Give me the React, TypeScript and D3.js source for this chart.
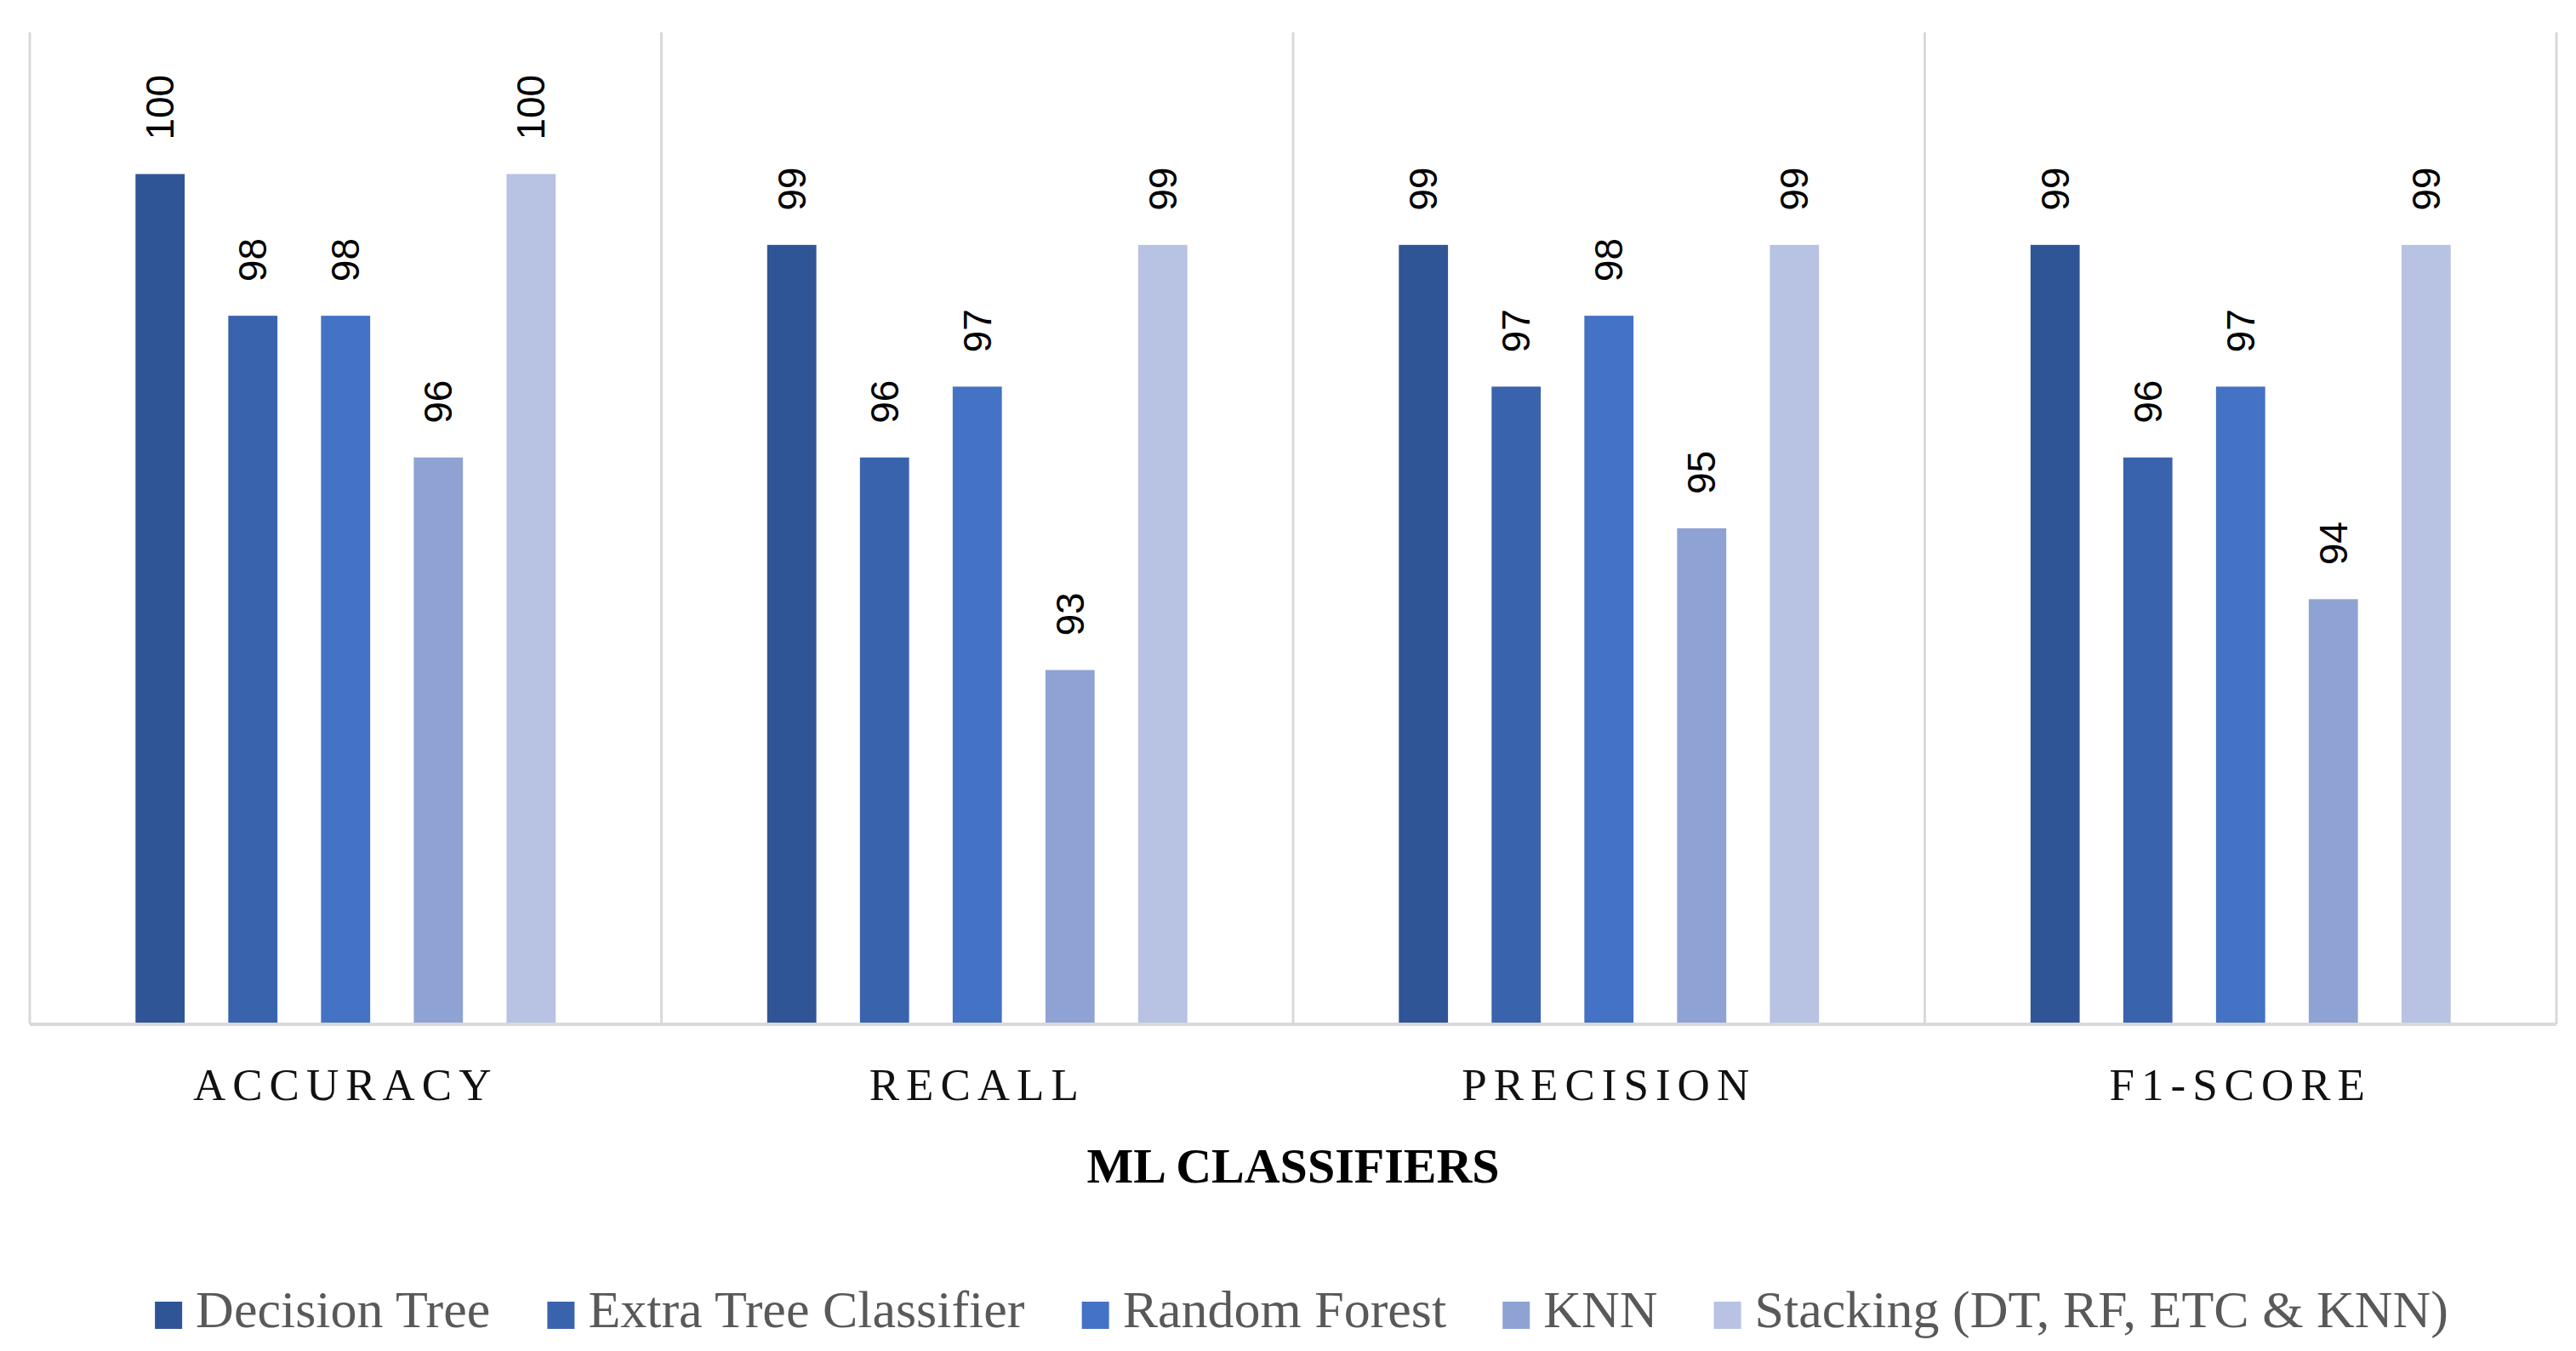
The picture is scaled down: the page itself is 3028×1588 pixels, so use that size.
import * as d3 from "d3";
import { useEffect } from "react";

const metrics = ["ACCURACY", "RECALL", "PRECISION", "F1-SCORE"];
const classifiers = [
    "Decision Tree",
    "Extra Tree Classifier",
    "Random Forest",
    "KNN",
    "Stacking (DT, RF, ETC & KNN)",
];
const colors = ["#2F5597", "#3A63AD", "#4472C4", "#8FA2D4", "#B8C2E2"];

// one array per classifier, in metric order
const decisionTree = [100, 99, 99, 99];
const extraTree = [98, 96, 97, 96];
const randomForest = [98, 97, 98, 97];
const knn = [96, 93, 95, 94];
const stacking = [100, 99, 99, 99];
const seriesValues = [decisionTree, extraTree, randomForest, knn, stacking];

const yDomain = [88, 102];
const axisTitle = "ML CLASSIFIERS";

const serif = "'Liberation Serif', 'DejaVu Serif', serif";
const sans = "'Liberation Sans', Arial, sans-serif";

let measureCtx: CanvasRenderingContext2D | null = null;
function textWidth(text: string, font: string) {
    if (!measureCtx) measureCtx = document.createElement("canvas").getContext("2d");
    if (!measureCtx) return text.length * 25;
    measureCtx.font = font;
    return measureCtx.measureText(text).width;
}

export default function App() {
    const width = 3028;
    const height = 1588;
    const plot = { left: 35, right: 3005, top: 38, bottom: 1204 };

    useEffect(() => {
        document.body.style.margin = "0";
    }, []);

    const xGroup = d3
        .scaleBand()
        .domain(metrics)
        .range([plot.left, plot.right])
        .padding(0);

    const xBar = d3
        .scaleBand()
        .domain(classifiers)
        .range([0, xGroup.bandwidth()])
        .paddingInner(0.47)
        .paddingOuter(1.14);

    const yScale = d3
        .scaleLinear()
        .domain(yDomain)
        .range([plot.bottom, plot.top]);

    const separators = [...metrics.map((m) => xGroup(m) ?? 0), plot.right];

    // legend layout, centred under the plot
    const legendFontSize = 62;
    const legendFont = `${legendFontSize}px ${serif}`;
    const swatch = 32;
    const swatchGap = 16;
    const itemGap = 66;
    const itemWidths = classifiers.map((c) => swatch + swatchGap + textWidth(c, legendFont));
    const legendTotal = d3.sum(itemWidths) + itemGap * (classifiers.length - 1);
    let legendX = 1530 - legendTotal / 2;
    const legendItems = classifiers.map((c, i) => {
        const x = legendX;
        legendX += itemWidths[i] + itemGap;
        return { name: c, x, color: colors[i] };
    });
    const legendY = 1560;

    return (
        <svg
            width={width}
            height={height}
            viewBox={`0 0 ${width} ${height}`}
            style={{ display: "block", background: "#fff" }}
        >
            {separators.map((x, i) => (
                <line
                    key={i}
                    x1={x}
                    x2={x}
                    y1={plot.top}
                    y2={plot.bottom}
                    stroke="#D9D9D9"
                    strokeWidth={3}
                />
            ))}

            {metrics.map((m, mi) => {
                const gx = xGroup(m) ?? 0;
                return (
                    <g key={m} transform={`translate(${gx},0)`}>
                        {classifiers.map((c, ci) => {
                            const v = seriesValues[ci][mi];
                            const x = xBar(c) ?? 0;
                            const bw = xBar.bandwidth();
                            const y = yScale(v);
                            return (
                                <g key={c}>
                                    <rect
                                        x={x}
                                        y={y}
                                        width={bw}
                                        height={plot.bottom - y}
                                        fill={colors[ci]}
                                    />
                                    <text
                                        transform={`translate(${x + bw / 2},${y - 40}) rotate(-90)`}
                                        textAnchor="start"
                                        dominantBaseline="central"
                                        fontFamily={sans}
                                        fontSize={46}
                                        fill="#000"
                                    >
                                        {v}
                                    </text>
                                </g>
                            );
                        })}
                        <text
                            x={xGroup.bandwidth() / 2}
                            y={1293}
                            textAnchor="middle"
                            fontFamily={serif}
                            fontSize={53}
                            letterSpacing={8}
                            fill="#111"
                        >
                            {m}
                        </text>
                    </g>
                );
            })}

            <line
                x1={plot.left}
                x2={plot.right}
                y1={plot.bottom}
                y2={plot.bottom}
                stroke="#D9D9D9"
                strokeWidth={4}
            />

            <text
                x={(plot.left + plot.right) / 2}
                y={1390}
                textAnchor="middle"
                fontFamily={serif}
                fontWeight="bold"
                fontSize={58}
                fill="#000"
            >
                {axisTitle}
            </text>

            {legendItems.map((d) => (
                <g key={d.name}>
                    <rect x={d.x} y={legendY - 30} width={swatch} height={32} fill={d.color} />
                    <text
                        x={d.x + swatch + swatchGap}
                        y={legendY}
                        fontFamily={serif}
                        fontSize={legendFontSize}
                        fill="#595959"
                    >
                        {d.name}
                    </text>
                </g>
            ))}
        </svg>
    );
}
